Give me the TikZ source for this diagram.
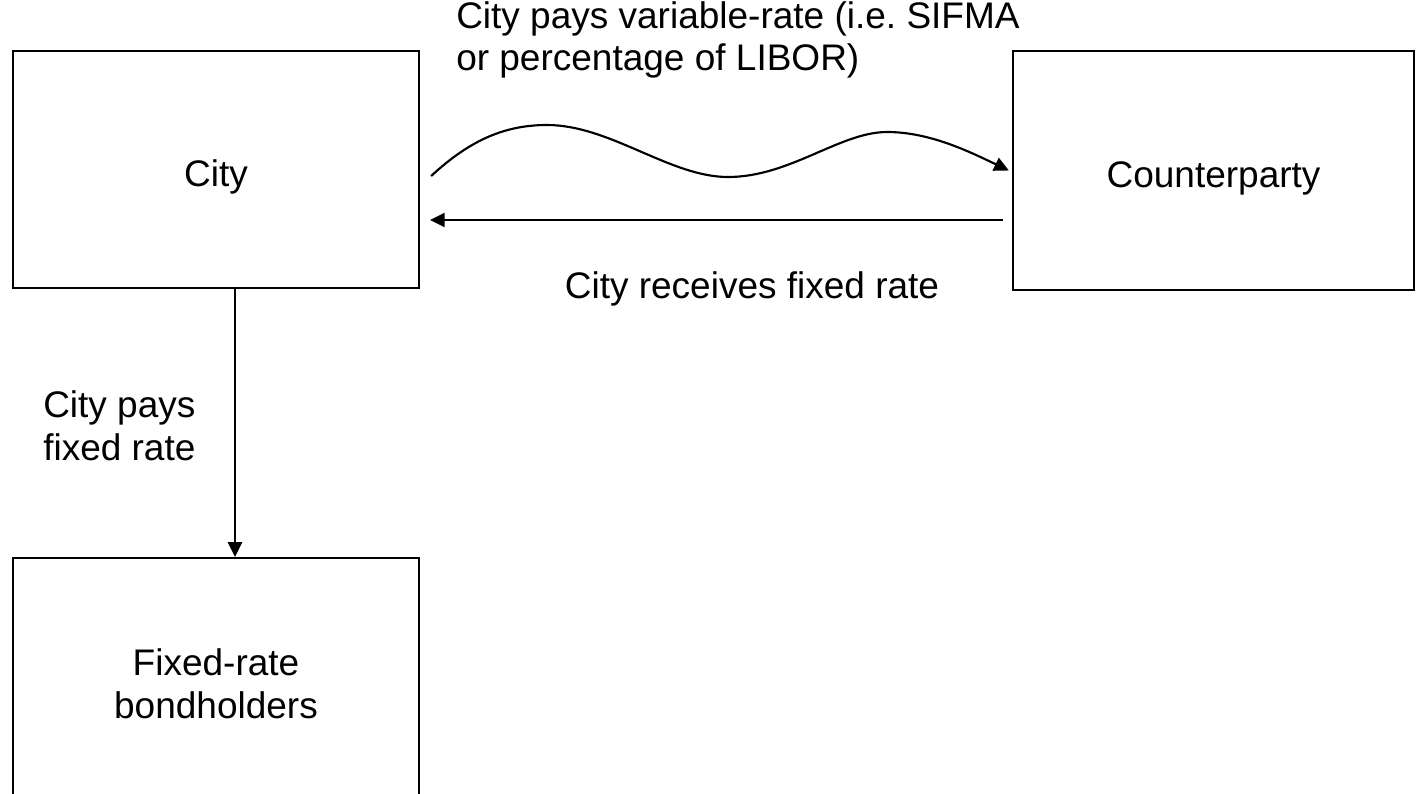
\documentclass[tikz,border=0pt]{standalone}
\usepackage{fontspec}
\setmainfont{Liberation Sans}
\usetikzlibrary{arrows.meta}
\frenchspacing
\begin{document}
\begin{tikzpicture}[x=0.75pt,y=-0.75pt,
  box/.style={draw=black,line width=1.7pt,rectangle,inner sep=0pt,align=center,
    font=\fontsize{27.75pt}{32pt}\selectfont},
  lbl/.style={inner sep=0pt,align=left,font=\fontsize{27.75pt}{32pt}\selectfont},
  arr/.style={line width=1.6pt,-{Triangle[length=11pt,width=10.5pt]}}]
\useasboundingbox (0,0) rectangle (1416,793);
\clip (0,0) rectangle (1416,793);
\node[box,minimum width=304.5pt,minimum height=177.75pt] (city) at (216,169.5) {\raisebox{-13pt}[0pt][0pt]{City}};
\node[box,minimum width=300.75pt,minimum height=179.25pt] (cp) at (1213.5,170.5) {\raisebox{-12.5pt}[0pt][0pt]{Counterparty}};
\node[box,minimum width=304.5pt,minimum height=189pt] (fixed) at (216,684) {Fixed-rate\\bondholders};
\coordinate (vx) at (235,0);
\coordinate (rs) at (1003,220);
\coordinate (re) at (430,220);
\draw[arr] (city.south -| vx) -- (fixed.north -| vx);
\draw[arr] ([xshift=8.25pt,yshift=-4.9pt]city.east)
  .. controls (470,140) and (505,125) .. (547,125)
  .. controls (610,125) and (670,177) .. (728,177)
  .. controls (790,177) and (840,132) .. (887,132)
  .. controls (930,132) and (970,152) .. ([xshift=-2.25pt]cp.west);
\draw[arr] (rs) -- (re);
\node[lbl,anchor=west] (t1) at (456,40) {City pays variable-rate (i.e. SIFMA\\or percentage of LIBOR)};
\node[lbl] (t2) at (752,289) {City receives fixed rate};
\node[lbl,anchor=west] (t3) at (43,426) {City pays\\fixed rate};
\end{tikzpicture}
\end{document}
